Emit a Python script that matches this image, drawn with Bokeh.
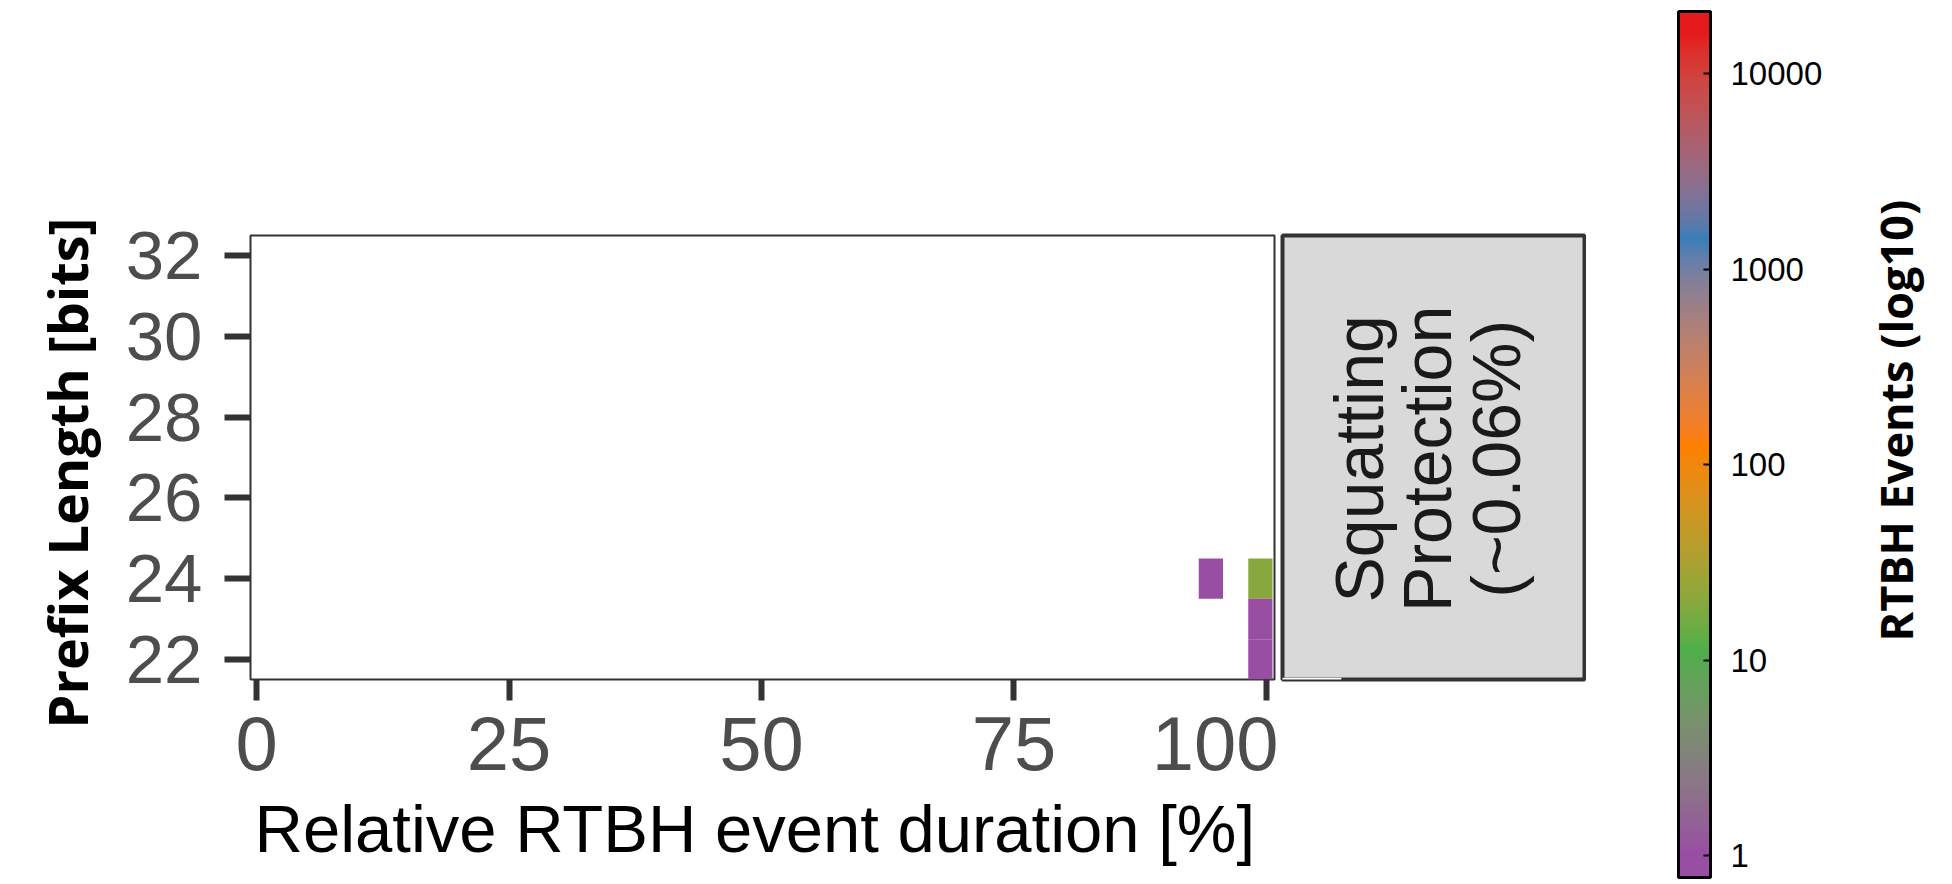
import numpy as np
from bokeh.plotting import figure
from bokeh.layouts import row
from bokeh.models import (ColumnDataSource, Range1d, FixedTicker, LogColorMapper,
                          ColorBar, Label, BoxAnnotation, Title, BasicTickFormatter)
from bokeh.embed import file_html
from bokeh.resources import INLINE

# ---- data -------------------------------------------------------------
duration_pct = [94.5, 99.4, 99.4, 99.4]      # relative event duration bin centre [%]
prefix_len = [24, 24, 23, 22]                # prefix length [bits]
events = [1, 20, 1, 1]                       # RTBH events in the bin
event_limits = [1, 16100]                    # shared colour scale limits
x_ticks = [0, 25, 50, 75, 100]
y_ticks = [22, 24, 26, 28, 30, 32]
cbar_ticks = [1, 10, 100, 1000, 10000]
facet_label = "Squatting\nProtection\n(~0.06%)"
x_title = "Relative RTBH event duration [%]"
y_title = "Prefix Length [bits]"
cbar_title = "RTBH Events (log10)"
set1_stops = ["#984EA3", "#4DAF4A", "#FF7F00", "#377EB8", "#E41A1C"]

# ---- colour ramp (CIELAB interpolation, like scales::gradient_n_pal) ----
_M = np.array([[0.4124564, 0.3575761, 0.1804375],
               [0.2126729, 0.7151522, 0.0721750],
               [0.0193339, 0.1191920, 0.9503041]])
_MINV = np.linalg.inv(_M)
_WHITE = np.array([0.95047, 1.0, 1.08883])
_D = 6 / 29


def hex_to_lab(hexes):
    rgb = np.array([[int(h[i:i + 2], 16) for i in (1, 3, 5)] for h in hexes]) / 255.0
    lin = np.where(rgb <= 0.04045, rgb / 12.92, ((rgb + 0.055) / 1.055) ** 2.4)
    f = (lin @ _M.T) / _WHITE
    f = np.where(f > _D ** 3, np.cbrt(f), f / (3 * _D ** 2) + 4 / 29)
    return np.stack([116 * f[:, 1] - 16,
                     500 * (f[:, 0] - f[:, 1]),
                     200 * (f[:, 1] - f[:, 2])], axis=1)


def lab_to_hex(lab):
    L, a, b = lab[:, 0], lab[:, 1], lab[:, 2]
    fy = (L + 16) / 116
    f = np.stack([fy + a / 500, fy, fy - b / 200], axis=1)
    xyz = np.where(f > _D, f ** 3, 3 * _D ** 2 * (f - 4 / 29)) * _WHITE
    lin = np.clip(xyz @ _MINV.T, 0, 1)
    rgb = np.where(lin <= 0.0031308, 12.92 * lin, 1.055 * lin ** (1 / 2.4) - 0.055)
    rgb = np.clip(np.round(rgb * 255), 0, 255).astype(int)
    return ["#%02x%02x%02x" % tuple(c) for c in rgb]


NBIN = 20                                   # guide bins -> half-bin overhang at each end
t_max = np.log10(event_limits[1])
half_bin = t_max / (2 * (NBIN - 1))
t_lo, t_hi = -half_bin, t_max + half_bin

stops_lab = hex_to_lab(set1_stops)
stop_pos = np.linspace(0, 1, len(set1_stops))
t_grid = np.linspace(t_lo, t_hi, 600)
s = np.clip(t_grid / t_max, 0, 1)
ramp = np.stack([np.interp(s, stop_pos, stops_lab[:, k]) for k in range(3)], axis=1)
palette = lab_to_hex(ramp)

mapper = LogColorMapper(palette=palette, low=10 ** t_lo, high=10 ** t_hi)

# ---- shared layout geometry (all panels in the row share top/bottom) ----
H = 884
TOP, BOTTOM = 235, 205                     # frame spans y = 235 .. 679

# ---- main heat map panel -----------------------------------------------
MAIN_W, FRAME_L, FRAME_R = 1278, 250, 1274
X0, X1 = -0.6, 100.8
Y0, Y1 = 21.5, 32.5
TILE_W = 2.4

src = ColumnDataSource(dict(x=duration_pct, y=prefix_len, events=events))

main = figure(width=MAIN_W, height=H, x_range=Range1d(X0, X1), y_range=Range1d(Y0, Y1),
              min_border_left=FRAME_L, min_border_right=MAIN_W - FRAME_R,
              min_border_top=TOP, min_border_bottom=BOTTOM,
              toolbar_location=None, output_backend="svg")
main.grid.visible = False
main.background_fill_color = "white"
main.border_fill_color = "white"
main.outline_line_color = "#333333"
main.outline_line_width = 2

main.rect(x="x", y="y", width=TILE_W, height=1, source=src,
          fill_color={"field": "events", "transform": mapper}, line_color=None)

for ax in (main.xaxis[0], main.yaxis[0]):
    ax.axis_line_color = None
    ax.major_tick_line_color = "#333333"
    ax.major_tick_line_width = 6
    ax.major_tick_in = 0
    ax.minor_tick_line_color = None
    ax.major_label_text_color = "#4d4d4d"
    ax.major_label_text_font = "Liberation Sans"

main.xaxis.ticker = FixedTicker(ticks=x_ticks)
main.xaxis.major_tick_out = 21
main.xaxis.major_label_standoff = 16
main.xaxis.major_label_text_font_size = "76px"

main.yaxis.ticker = FixedTicker(ticks=y_ticks)
main.yaxis.major_tick_out = 26
main.yaxis.major_label_standoff = 22
main.yaxis.major_label_text_font_size = "69px"

main.add_layout(Title(text=y_title, align="left", offset=-49, standoff=34,
                      vertical_align="top",
                      text_font="Open Sans", text_font_style="bold",
                      text_font_size="54px", text_color="black"), "left")
main.add_layout(Title(text=x_title, align="left", offset=4, standoff=33,
                      text_font="Liberation Sans", text_font_style="normal",
                      text_font_size="67px", text_color="black"), "below")

# ---- facet strip --------------------------------------------------------
STRIP_W = 308
strip = figure(width=STRIP_W, height=H, x_range=Range1d(0, 1), y_range=Range1d(0, 1),
               min_border_left=4, min_border_right=2, min_border_top=TOP,
               min_border_bottom=BOTTOM, x_axis_type=None, y_axis_type=None,
               toolbar_location=None, output_backend="svg")
strip.grid.visible = False
strip.background_fill_color = "#d9d9d9"
strip.border_fill_color = "white"
strip.outline_line_color = "#333333"
strip.outline_line_width = 4
strip.add_layout(Label(x=0.48, y=0.497, text=facet_label, angle=np.pi / 2,
                       text_align="center", text_baseline="middle",
                       text_font="Liberation Sans", text_font_size="68px",
                       text_line_height=0.905, text_color="#1a1a1a"))
strip.add_layout(BoxAnnotation(left=-0.05, right=0.195, bottom=-0.012, top=0.004,
                               fill_color="white", fill_alpha=1.0, line_color=None))

# ---- colour bar (log10 event scale) -------------------------------------
CB_FIG_W = 366
CB_FRAME_L = 339                           # title sits in the left border
BAR_X, BAR_BOTTOM, BAR_LEN, BAR_W = 92, 7, 866, 32

cfig = figure(width=CB_FIG_W, height=H, x_range=Range1d(0, 1), y_range=Range1d(0, 1),
              min_border_left=CB_FRAME_L, min_border_right=0,
              min_border_top=TOP, min_border_bottom=BOTTOM,
              x_axis_type=None, y_axis_type=None,
              toolbar_location=None, output_backend="svg")
cfig.grid.visible = False
cfig.outline_line_color = None
cfig.background_fill_color = "white"
cfig.border_fill_color = "white"

cb = ColorBar(color_mapper=mapper,
              location=(BAR_X - CB_FRAME_L, -(BOTTOM - BAR_BOTTOM)),
              orientation="vertical", width=BAR_W, height=BAR_LEN, padding=0,
              ticker=FixedTicker(ticks=cbar_ticks),
              formatter=BasicTickFormatter(use_scientific=False),
              major_label_text_font="Liberation Sans", major_label_text_font_size="33px",
              major_label_text_color="black", label_standoff=20,
              major_tick_line_color="black", major_tick_line_width=2,
              major_tick_in=7, major_tick_out=0, minor_tick_line_color=None,
              bar_line_color="black", bar_line_width=3,
              background_fill_alpha=0, border_line_color=None)
cfig.add_layout(cb, "center")

cfig.add_layout(Title(text=cbar_title, align="left", offset=38, standoff=0,
                      text_font="Open Sans", text_font_style="bold",
                      text_font_size="45px", text_color="black"), "left")

layout = row(main, strip, cfig, spacing=0)
open("out.html", "w").write(file_html(layout, INLINE))
